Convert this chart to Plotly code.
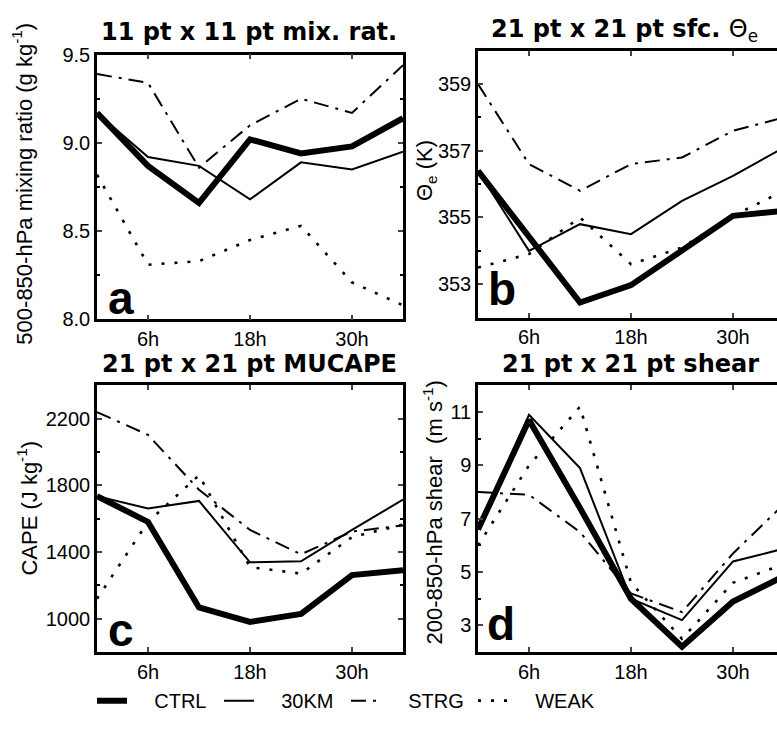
import plotly.graph_objects as go

# ---------------- data ----------------
hours = [0, 6, 12, 18, 24, 30, 36]
xtick_vals = [6, 18, 30]
xtick_text = ["6h", "18h", "30h"]

series_names = ["CTRL", "30KM", "STRG", "WEAK"]

# (a) 500-850-hPa mixing ratio (g/kg)
ctrl_a = [9.17, 8.87, 8.66, 9.02, 8.94, 8.98, 9.14]
km30_a = [9.17, 8.92, 8.87, 8.68, 8.89, 8.85, 8.95]
strg_a = [9.39, 9.34, 8.86, 9.10, 9.25, 9.17, 9.44]
weak_a = [8.82, 8.31, 8.33, 8.45, 8.53, 8.21, 8.08]

# (b) surface theta-e (K)
ctrl_b = [356.4, 354.4, 352.45, 352.97, 354.0, 355.05, 355.2]
km30_b = [356.4, 354.0, 354.8, 354.5, 355.5, 356.25, 357.1]
strg_b = [359.0, 356.6, 355.8, 356.6, 356.8, 357.6, 358.0]
weak_b = [353.5, 353.9, 355.0, 353.6, 354.1, 355.05, 355.8]

# (c) MUCAPE (J/kg)
ctrl_c = [1736, 1581, 1068, 981, 1029, 1262, 1291]
km30_c = [1736, 1662, 1707, 1339, 1345, 1533, 1715]
strg_c = [2240, 2103, 1774, 1533, 1387, 1523, 1560]
weak_c = [1120, 1581, 1861, 1310, 1271, 1490, 1565]

# (d) 200-850-hPa shear (m/s)
ctrl_d = [6.6, 10.7, 7.4, 4.0, 2.2, 3.9, 4.85]
km30_d = [6.6, 10.9, 8.9, 4.0, 3.2, 5.4, 5.88]
strg_d = [8.0, 7.9, 6.5, 4.2, 3.5, 5.7, 7.55]
weak_d = [6.0, 9.0, 11.2, 4.6, 2.5, 4.6, 5.3]

panels = [
    dict(data=[ctrl_a, km30_a, strg_a, weak_a], ax="", title="11 pt x 11 pt mix. rat.", letter="a"),
    dict(data=[ctrl_b, km30_b, strg_b, weak_b], ax="2", title="21 pt x 21 pt sfc. <span style='font-weight:normal'>Θ<sub>e</sub></span>", letter="b"),
    dict(data=[ctrl_c, km30_c, strg_c, weak_c], ax="3", title="21 pt x 21 pt MUCAPE", letter="c"),
    dict(data=[ctrl_d, km30_d, strg_d, weak_d], ax="4", title="21 pt x 21 pt shear", letter="d"),
]

# ---------------- styles ----------------
W, H = 777, 732
styles = [
    dict(color="black", width=6, dash="solid"),
    dict(color="black", width=2, dash="solid"),
    dict(color="black", width=2, dash="15px,7px,3px,7px"),
    dict(color="black", width=2.6, dash="3px,10px"),
]

TICKFONT = dict(family="Liberation Sans Narrow, Liberation Sans, Arial", size=20, color="black")
TITLEFONT = dict(family="DejaVu Sans", size=24, color="black", weight="bold")

def px_x(p):
    return p / W

def px_y(p):
    return 1 - p / H

fig = go.Figure()

NBSP = "\u00a0"
for i, p in enumerate(panels):
    for j, (name, vals) in enumerate(zip(series_names, p["data"])):
        fig.add_trace(go.Scatter(
            x=hours, y=vals, mode="lines", name=NBSP * 4 + name,
            line=styles[j], legendgroup=name, showlegend=(i == 0),
            xaxis="x" + p["ax"], yaxis="y" + p["ax"],
            hoverinfo="skip",
        ))

# domains (pixel-derived)
left_x = [px_x(97), px_x(403)]
right_x = [px_x(478), 1.0]
top_a = [px_y(318), px_y(45)]
top_b = [px_y(316), px_y(41)]
bot = [px_y(661), px_y(386)]

right_range_max = (W - 478) / 8.5  # 8.5 px per hour, panel cropped at the image edge

def xaxis(domain, rng, anchor):
    return dict(domain=domain, range=rng, anchor=anchor, tickmode="array",
                tickvals=xtick_vals, ticktext=xtick_text, ticks="inside", ticklen=5,
                tickwidth=2, showline=True, linewidth=2.5, linecolor="black",
                mirror="allticks", showgrid=False, zeroline=False, tickfont=TICKFONT)

def yaxis(domain, rng, anchor, vals, fmt, minor_dtick, mirror):
    return dict(domain=domain, range=rng, anchor=anchor, tickmode="array",
                tickvals=vals, ticks="inside", ticklen=5, tickwidth=2,
                tickformat=fmt, showline=True, linewidth=2.5, linecolor="black",
                mirror=mirror, showgrid=False, zeroline=False, tickfont=TICKFONT,
                minor=dict(tickmode="linear", tick0=rng[0], dtick=minor_dtick,
                           ticks="inside", ticklen=3, tickwidth=1.5, tickcolor="black",
                           showgrid=False))

fig.update_layout(
    xaxis=xaxis(left_x, [0, 36], "y"),
    yaxis=yaxis(top_a, [8.0, 9.5], "x", [8.0, 8.5, 9.0, 9.5], ".1f", 0.25, "allticks"),
    xaxis2=xaxis(right_x, [0, right_range_max], "y2"),
    yaxis2=yaxis(top_b, [352, 360], "x2", [353, 355, 357, 359], "d", 1, False),
    xaxis3=xaxis(left_x, [0, 36], "y3"),
    yaxis3=yaxis(bot, [800, 2400], "x3", [1000, 1400, 1800, 2200], "d", 200, "allticks"),
    xaxis4=xaxis(right_x, [0, right_range_max], "y4"),
    yaxis4=yaxis(bot, [2, 12], "x4", [3, 5, 7, 9, 11], "d", 1, False),
)

ann = []
# panel titles
ann.append(dict(text=panels[0]["title"], x=px_x(249), y=px_y(22), xanchor="center", yanchor="middle"))
ann.append(dict(text=panels[1]["title"], x=px_x(489), y=px_y(20), xanchor="left", yanchor="middle"))
ann.append(dict(text=panels[2]["title"], x=px_x(249), y=px_y(364), xanchor="center", yanchor="middle"))
ann.append(dict(text=panels[3]["title"], x=px_x(630), y=px_y(364), xanchor="center", yanchor="middle"))
for a in ann:
    a.update(xref="paper", yref="paper", showarrow=False, font=TITLEFONT)

LABELFONT = dict(family="Liberation Sans Narrow, Liberation Sans, Arial", size=22, color="black")
labels = [
    ("500-850-hPa mixing ratio (g kg<sup>-1</sup>)", 22, 178),
    ("Θ<sub>e</sub> (K)", 426, 165),
    ("CAPE (J kg<sup>-1</sup>)", 27, 513),
    ("200-850-hPa shear  (m s<sup>-1</sup>)", 433, 517),
]
for t, x, y in labels:
    ann.append(dict(text=t, x=px_x(x), y=px_y(y), xref="paper", yref="paper",
                    textangle=-90, showarrow=False, font=LABELFONT,
                    xanchor="center", yanchor="middle"))

LETTERFONT = dict(family="Liberation Sans, Arial", size=46, color="black", weight="bold")
letters = [("a", 106, 296), ("b", 486, 287), ("c", 106, 638), ("d", 485, 632)]
for t, x, y in letters:
    ann.append(dict(text=t, x=px_x(x), y=px_y(y), xref="paper", yref="paper",
                    showarrow=False, font=LETTERFONT, xanchor="left", yanchor="middle"))

fig.update_layout(
    annotations=ann,
    width=W, height=H,
    margin=dict(l=0, r=0, t=0, b=0),
    paper_bgcolor="white", plot_bgcolor="white",
    showlegend=True,
    legend=dict(orientation="h", x=px_x(92), y=px_y(711), xanchor="left", yanchor="middle",
                font=dict(family="Liberation Sans Narrow, Liberation Sans, Arial", size=20, color="black"),
                entrywidth=82, entrywidthmode="pixels", bgcolor="rgba(0,0,0,0)",
                itemclick=False, itemdoubleclick=False, tracegroupgap=0),
)

fig.write_html("out.html")
